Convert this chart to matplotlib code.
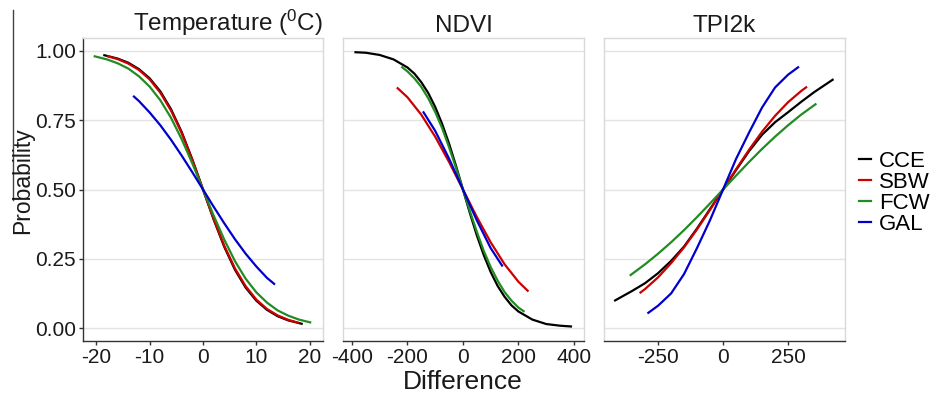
import matplotlib
matplotlib.use("Agg")
import matplotlib.pyplot as plt
from matplotlib.lines import Line2D

plt.rcParams['font.family'] = ['Liberation Sans', 'DejaVu Sans']
plt.rcParams['mathtext.fontset'] = 'custom'
plt.rcParams['mathtext.rm'] = 'Liberation Sans'

# ---------------- data ----------------
panel_titles = [r'Temperature ($\mathregular{^0}$C)', 'NDVI', 'TPI2k']
series_names = ['CCE', 'SBW', 'FCW', 'GAL']
series_colors = ['#000000', '#CD0000', '#228B22', '#0000CD']

# Temperature panel
temp_x_cce = [-18.7, -16, -14, -12, -10, -8, -6, -4, -2, 0, 2, 4, 6, 8, 10, 12, 14, 16, 18.7]
temp_p_cce = [0.984, 0.971, 0.956, 0.933, 0.900, 0.853, 0.789, 0.707, 0.608, 0.5,
              0.392, 0.293, 0.211, 0.147, 0.100, 0.067, 0.044, 0.029, 0.016]
temp_x_sbw = [-18, -16, -14, -12, -10, -8, -6, -4, -2, 0, 2, 4, 6, 8, 10, 12, 14, 16, 18]
temp_p_sbw = [0.980, 0.969, 0.953, 0.930, 0.896, 0.848, 0.784, 0.703, 0.606, 0.5,
              0.394, 0.297, 0.216, 0.152, 0.104, 0.070, 0.047, 0.031, 0.020]
temp_x_fcw = [-20.5, -18, -16, -14, -12, -10, -8, -6, -4, -2, 0, 2, 4, 6, 8, 10, 12, 14, 16, 18, 20.3]
temp_p_fcw = [0.980, 0.968, 0.954, 0.935, 0.907, 0.870, 0.821, 0.758, 0.681, 0.594, 0.5,
              0.406, 0.319, 0.242, 0.179, 0.130, 0.093, 0.065, 0.046, 0.032, 0.021]
temp_x_gal = [-13.1, -12, -10, -8, -6, -4, -2, 0, 2, 4, 6, 8, 10, 12, 13.5]
temp_p_gal = [0.837, 0.818, 0.777, 0.731, 0.679, 0.622, 0.562, 0.5,
              0.438, 0.378, 0.321, 0.269, 0.223, 0.182, 0.158]

# NDVI panel
ndvi_x_cce = [-391, -350, -300, -250, -200, -175, -150, -125, -100, -75, -50, -25, 0,
              25, 50, 75, 100, 125, 150, 175, 200, 250, 300, 350, 393]
ndvi_p_cce = [0.994, 0.992, 0.984, 0.968, 0.939, 0.917, 0.886, 0.847, 0.797, 0.736, 0.665, 0.585, 0.5,
              0.415, 0.335, 0.264, 0.203, 0.153, 0.114, 0.083, 0.061, 0.032, 0.016, 0.010, 0.007]
ndvi_x_sbw = [-238, -200, -150, -100, -50, 0, 50, 100, 150, 200, 236]
ndvi_p_sbw = [0.867, 0.832, 0.769, 0.690, 0.599, 0.5, 0.401, 0.310, 0.231, 0.168, 0.133]
ndvi_x_fcw = [-222, -200, -175, -150, -125, -100, -75, -50, -25, 0, 25, 50, 75, 100, 125, 150, 175, 200, 222]
ndvi_p_fcw = [0.942, 0.925, 0.900, 0.869, 0.828, 0.779, 0.721, 0.652, 0.578, 0.5,
              0.422, 0.348, 0.279, 0.221, 0.172, 0.131, 0.100, 0.075, 0.060]
ndvi_x_gal = [-144, -100, -50, 0, 50, 100, 143]
ndvi_p_gal = [0.781, 0.711, 0.611, 0.5, 0.389, 0.289, 0.223]

# TPI2k panel
tpi_x_cce = [-419, -350, -300, -250, -200, -150, -100, -50, 0, 50, 100, 150, 200, 250, 300, 350, 425]
tpi_p_cce = [0.099, 0.135, 0.163, 0.199, 0.243, 0.295, 0.360, 0.430, 0.5,
             0.570, 0.638, 0.697, 0.742, 0.778, 0.815, 0.850, 0.897]
tpi_x_sbw = [-321, -300, -250, -200, -150, -100, -50, 0, 50, 100, 150, 200, 250, 300, 323]
tpi_p_sbw = [0.127, 0.142, 0.184, 0.235, 0.292, 0.357, 0.427, 0.5,
             0.573, 0.643, 0.708, 0.765, 0.814, 0.854, 0.870]
tpi_x_fcw = [-359, -300, -250, -200, -150, -100, -50, 0, 50, 100, 150, 200, 250, 300, 359]
tpi_p_fcw = [0.190, 0.231, 0.269, 0.310, 0.354, 0.401, 0.450, 0.5,
             0.550, 0.599, 0.646, 0.690, 0.731, 0.769, 0.809]
tpi_x_gal = [-291, -250, -200, -150, -100, -50, 0, 50, 100, 150, 200, 250, 292]
tpi_p_gal = [0.054, 0.082, 0.126, 0.196, 0.290, 0.390, 0.5, 0.610, 0.705, 0.795, 0.867, 0.913, 0.942]

x_ticks = [[-20, -10, 0, 10, 20], [-400, -200, 0, 200, 400], [-250, 0, 250]]
x_limits = [(-22.5, 22.5), (-432, 436), (-458, 469)]
y_ticks = [0.0, 0.25, 0.5, 0.75, 1.0]
y_ticklabels = ['0.00', '0.25', '0.50', '0.75', '1.00']

panels = [
    [(temp_x_cce, temp_p_cce), (temp_x_sbw, temp_p_sbw), (temp_x_fcw, temp_p_fcw), (temp_x_gal, temp_p_gal)],
    [(ndvi_x_cce, ndvi_p_cce), (ndvi_x_sbw, ndvi_p_sbw), (ndvi_x_fcw, ndvi_p_fcw), (ndvi_x_gal, ndvi_p_gal)],
    [(tpi_x_cce, tpi_p_cce), (tpi_x_sbw, tpi_p_sbw), (tpi_x_fcw, tpi_p_fcw), (tpi_x_gal, tpi_p_gal)],
]

# ---------------- figure ----------------
W, H = 937, 393
fig = plt.figure(figsize=(W / 100, H / 100), dpi=100)
fig.patch.set_facecolor('white')

lefts = [83, 343, 604]
widths = [240, 241, 241]
top_px, bot_px = 38, 341

light = '#d9d9d9'
dark = '#333333'

axes = []
for i in range(3):
    ax = fig.add_axes([lefts[i] / W, 1 - bot_px / H, widths[i] / W, (bot_px - top_px) / H])
    axes.append(ax)
    ax.set_facecolor('white')
    for (xs, ps), col in zip(panels[i], series_colors):
        ax.plot(xs, ps, color=col, lw=1.6, solid_capstyle='butt')
    ax.set_xlim(*x_limits[i])
    ax.set_ylim(-0.045, 1.045)
    ax.set_xticks(x_ticks[i])
    ax.set_xticklabels([str(t) for t in x_ticks[i]])
    ax.set_yticks(y_ticks)
    ax.yaxis.grid(True, color='#e3e3e3', lw=1.0)
    ax.xaxis.grid(False)
    ax.set_axisbelow(True)
    for s in ['top', 'right']:
        ax.spines[s].set_color(light)
        ax.spines[s].set_linewidth(1.0)
    ax.spines['bottom'].set_color(dark)
    ax.spines['bottom'].set_linewidth(1.0)
    ax.tick_params(axis='x', length=3, width=1, color=dark, labelsize=15, pad=2, labelcolor='#1a1a1a')
    if i == 0:
        ax.spines['left'].set_color(dark)
        ax.spines['left'].set_linewidth(1.0)
        ax.set_yticklabels(y_ticklabels)
        ax.tick_params(axis='y', length=3, width=1, color=dark, labelsize=15, pad=2, labelcolor='#1a1a1a')
        ax.set_title(panel_titles[i], fontsize=17.5, pad=4, loc='right', color='#1a1a1a')
    else:
        ax.spines['left'].set_color(light)
        ax.spines['left'].set_linewidth(1.0)
        ax.tick_params(axis='y', length=0, labelleft=False)
        ax.set_title(panel_titles[i], fontsize=17.5, pad=4, color='#1a1a1a')

fig.text(23 / W, 1 - 181 / H, 'Probability', rotation=90, fontsize=16.5,
         ha='center', va='center', color='#1a1a1a')
fig.text(463 / W, 1 - 389 / H, 'Difference', fontsize=19, ha='center', va='baseline', color='#1a1a1a')

handles = [Line2D([0], [0], color=c, lw=1.6) for c in series_colors]
fig.legend(handles, series_names, loc='center left', bbox_to_anchor=(859 / W, 1 - 193 / H),
           frameon=False, fontsize=16, handlelength=0.55, handletextpad=0.35,
           labelspacing=0.0, borderpad=0, borderaxespad=0)

# thin vertical stroke at the top-left of the original image
fig.add_artist(Line2D([12.5 / W, 12.5 / W], [1 - 10 / H, 1 - 200 / H], color='#444444', lw=1.0))

fig.savefig('out.png', dpi=100, facecolor='white')
